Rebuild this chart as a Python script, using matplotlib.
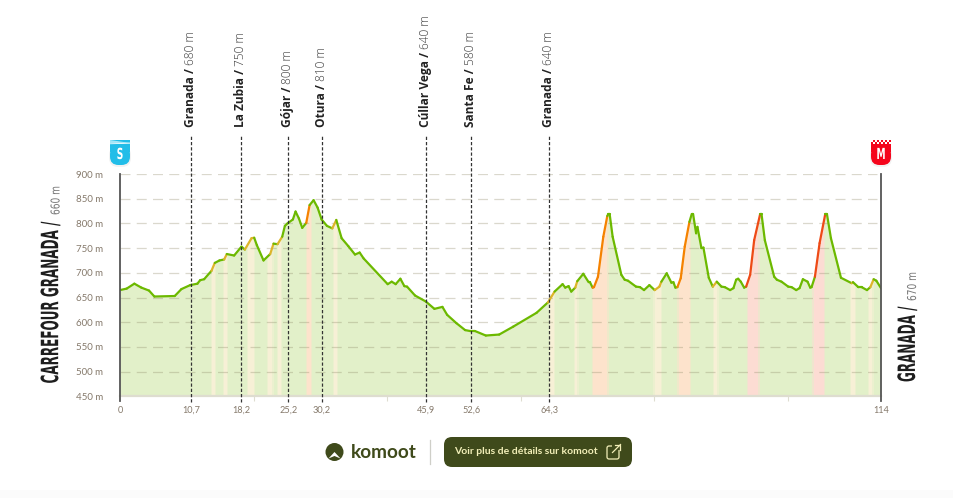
import matplotlib
matplotlib.use('Agg')
import matplotlib.pyplot as plt
import matplotlib.patheffects as pe
from matplotlib.collections import LineCollection
from matplotlib.patches import FancyBboxPatch, Rectangle, Circle, Polygon
from matplotlib.transforms import Affine2D
import numpy as np

# elevation profile
km = [0, 1, 2.15, 3.2, 4.35, 5.15, 8.2, 9.2, 10.5, 11.6, 12, 12.6, 13.7, 14.2, 14.9, 15.6, 16, 17.1, 18.2, 18.7,
      19.7, 20.1, 20.5, 21.5, 22.5, 23, 23.6, 24.3, 24.7, 25.1, 25.9, 26.3, 26.8, 27.3, 27.9, 28.4, 29, 29.6, 30.2,
      31, 31.8, 32.4, 33.2, 34.2, 35.2, 35.9, 36.5, 40.1, 40.7, 41.3, 42, 42.6, 43, 44.2, 45.8, 47.1, 48.3, 49,
      50.4, 51.7, 52.5, 53.2, 54.8, 56.8, 58.9, 62.4, 64.1, 65.1, 66.3, 66.7, 67.2, 67.6, 68.2, 68.5, 69.4, 70.2,
      70.4, 70.8, 71, 71.6, 72.4, 73, 73.15, 73.35, 73.8, 75.1, 75.6, 76.1, 77.3, 77.9, 78.5, 79.3, 80.1, 80.8, 81.1,
      81.9, 82.6, 82.9, 83.2, 83.5, 84, 84.6, 85.3, 85.65, 85.85, 86.3, 86.5, 87.1, 87.4, 88.2, 88.8, 89.4, 90.1,
      90.6, 91.4, 91.9, 92.3, 92.6, 93, 93.5, 93.8, 94.4, 95, 95.9, 96.1, 96.6, 98, 98.4, 99.1, 100.1, 100.6, 101.3,
      101.8, 102.3, 103, 103.4, 103.6, 104.1, 104.8, 105.65, 105.9, 106.5, 108, 109.6, 109.8, 110.6, 111.1, 111.9,
      112.4, 112.9, 113.3, 114]
elev = [665, 668, 678, 670, 664, 652, 653, 667, 675, 678, 685, 687, 704, 720, 725, 727, 738, 735, 753, 747,
        770, 771, 756, 725, 738, 759, 758, 773, 795, 800, 808, 824, 810, 791, 801, 837, 847, 832, 808,
        795, 790, 807, 770, 754, 737, 741, 729, 677, 682, 677, 688, 673, 672, 654, 642, 627, 631, 615,
        598, 584, 582, 582, 573, 575, 591, 619, 640, 662, 677, 670, 673, 662, 670, 683, 698, 681,
        681, 670, 671, 692, 773, 815, 819, 819, 773, 696, 686, 684, 672, 671, 665, 675, 665, 672, 682,
        699, 680, 681, 670, 671, 689, 753, 803, 819, 819, 780, 793, 750, 751, 690, 672, 682, 672,
        671, 665, 669, 686, 688, 682, 670, 672, 696, 766, 819, 819, 766, 692, 686, 682, 672, 671, 665,
        669, 687, 682, 670, 671, 692, 760, 819, 819, 770, 690, 679, 681, 671, 671, 665,
        671, 687, 684, 669]

# steep stretches
band_start = [13.8, 15.6, 19.2, 22.2, 23.7, 28.0, 32.1, 64.4, 68.2, 70.9, 80.1, 83.7, 89.0, 94.1, 103.9, 109.5, 112.2]
band_end = [14.2, 16.0, 20.0, 22.8, 24.1, 28.6, 32.5, 65.0, 68.5, 73.0, 81.0, 85.4, 89.5, 95.6, 105.4, 110.1, 112.7]
band_kind = ['y', 'y', 'y', 'y', 'y', 'o', 'y', 'y', 'y', 'o', 'y', 'o', 'y', 'r', 'r', 'y', 'y']
band_fill = {'y': '#F7F0D6', 'o': '#FDE3CC', 'r': '#FCDCD3'}
band_line = {'y': '#DDB52A', 'o': '#F58200', 'r': '#EE4A16'}

# named stops
stop_km = [10.7, 18.2, 25.2, 30.2, 45.9, 52.6, 64.3]
stop_names = ['Granada', 'La Zubia', 'Gójar', 'Otura', 'Cúllar Vega', 'Santa Fe', 'Granada']
stop_elev = [680, 750, 800, 810, 640, 580, 640]
stop_ticklabels = ['10,7', '18,2', '25,2', '30,2', '45,9', '52,6', '64,3']

y_ticks = [450, 500, 550, 600, 650, 700, 750, 800, 850, 900]
minor_km = [20, 40, 60, 80, 100]

W, H = 954, 498
FONT = 'Lato'
TEXTC = '#85796B'
DARK = '#3F4A1B'


class Squeeze(pe.AbstractPathEffect):
    # narrows text about a pivot in display pixels, no condensed caps font is installed
    def __init__(self, px=0, py=0, sx=1, sy=1):
        super().__init__()
        self.px, self.py, self.sx, self.sy = px, py, sx, sy

    def draw_path(self, renderer, gc, tpath, affine, rgbFace=None):
        t = Affine2D().translate(-self.px, -self.py).scale(self.sx, self.sy).translate(self.px, self.py)
        renderer.draw_path(gc, tpath, affine + t, rgbFace)


fig = plt.figure(figsize=(W / 100, H / 100), dpi=100, facecolor='white')
ax = fig.add_axes([120 / W, 1 - 396.3 / H, 761 / W, 222.3 / H])
ax.set_xlim(0, 114)
ax.set_ylim(450, 900)
ax.patch.set_alpha(0)

# area under the profile and the coloured stretches clipped to it
area = ax.fill_between(km, elev, 450, color='#E2F0C9', lw=0, zorder=1)
clip = area.get_paths()[0]
for s, e, k in zip(band_start, band_end, band_kind):
    for pad, a in [(0.2, 0.5), (0, 1)]:
        span = ax.axvspan(s - pad, e + pad, color=band_fill[k], alpha=a, lw=0, zorder=1.5)
        span.set_clip_path(clip, transform=ax.transData)

# grid
for v in y_ticks[1:]:
    ax.plot([0, 113.4], [v, v], color='#8F8B6A', alpha=0.33, lw=0.9, dashes=(8, 5), zorder=2)

# profile line, coloured per segment
pts = np.column_stack([km, elev])
segs = np.stack([pts[:-1], pts[1:]], axis=1)
cols = []
for i in range(len(km) - 1):
    mid = (km[i] + km[i + 1]) / 2
    c = '#6CB900'
    for s, e, k in zip(band_start, band_end, band_kind):
        if s <= mid <= e:
            c = band_line[k]
    cols.append(c)
ax.add_collection(LineCollection(segs, colors=cols, linewidths=1.6, capstyle='round', joinstyle='round', zorder=4))

# stops
for x in stop_km:
    ax.axvline(x, ymin=-0.024, ymax=1.175, color='#333333', lw=0.9, dashes=(2.6, 1.6), clip_on=False, zorder=5)
ax.axvline(0, ymin=-0.02, ymax=1, color='#555555', lw=1.3, clip_on=False, zorder=5)
ax.axvline(114, ymin=-0.02, ymax=1, color='#555555', lw=1.3, clip_on=False, zorder=5)

# axes
for name in ['top', 'left', 'right']:
    ax.spines[name].set_visible(False)
ax.spines['bottom'].set_color('#DEDDD0')
ax.spines['bottom'].set_linewidth(1.6)
ax.set_xticks([0] + stop_km + [114])
ax.set_xticklabels(['0'] + stop_ticklabels + ['114'], fontsize=6.6, color=TEXTC, family=FONT)
ax.set_xticks(minor_km, minor=True)
ax.tick_params(axis='x', which='major', length=0, pad=7)
ax.tick_params(axis='x', which='minor', length=3.5, width=0.8, color='#DEDDD0')
ax.set_yticks(y_ticks)
ax.set_yticklabels([str(v) + ' m' for v in y_ticks], fontsize=7, color=TEXTC, family=FONT)
ax.tick_params(axis='y', length=0, pad=31.5)
for l in ax.get_yticklabels():
    l.set_ha('left')

# overlay in pixels for the furniture around the chart
ov = fig.add_axes([0, 0, 1, 1])
ov.set_xlim(0, W)
ov.set_ylim(H, 0)
ov.axis('off')
ov.patch.set_alpha(0)
ov.set_zorder(-1)
ax.set_zorder(1)
top = fig.add_axes([0, 0, 1, 1])
top.set_xlim(0, W)
top.set_ylim(H, 0)
top.axis('off')
top.patch.set_alpha(0)
top.set_zorder(2)

ov.add_patch(Rectangle((0, 490), W, 8, color='#FBFBFB', lw=0))

# stop labels, bold name then light elevation
fig.canvas.draw()
rend = fig.canvas.get_renderer()
for x, n, h in zip(stop_km, stop_names, stop_elev):
    px = 120 + x * 761 / 114
    t = top.text(px - 0.5, 126.5, n + ' /', rotation=90, ha='center', va='bottom', fontsize=8.6, fontweight='bold',
                 family='Open Sans', color='#222222')
    bb = t.get_window_extent(rend)
    top_px = H - bb.y1
    top.text(px - 0.5, top_px - 2.5, str(h) + ' m', rotation=90, ha='center', va='bottom', fontsize=8.6,
             fontweight='light', family='Open Sans', color='#3A3A3A')


def shield(cx, color, letter):
    top.add_patch(FancyBboxPatch((cx - 11, 146), 22, 21, boxstyle='round,pad=0,rounding_size=9', fc='#000000',
                                 ec='none', alpha=0.05, zorder=1))
    top.add_patch(Rectangle((cx - 10, 140), 20, 12, fc=color, ec='none', zorder=2))
    top.add_patch(FancyBboxPatch((cx - 10, 146), 20, 19, boxstyle='round,pad=0,rounding_size=8.5', fc=color,
                                 ec='none', zorder=2))
    t = top.text(cx, 154.5, letter, color='white', fontsize=11, fontweight='bold', ha='center', va='center', zorder=4,
                 family='Liberation Sans Narrow')
    t.set_path_effects([Squeeze(px=cx, sx=0.6)])


shield(120, '#22BDE8', 'S')
top.add_patch(Polygon([(110, 140), (130.5, 143), (110, 143.5)], fc='#A5E6F7', ec='none', zorder=3))
top.add_patch(Polygon([(110, 143.5), (131, 142.6), (131, 143.6), (110, 144.2)], fc='white', ec='none', zorder=3))

shield(881, '#F5051C', 'M')
for i in range(10):
    for j in range(2):
        if (i + j) % 2 == 0:
            top.add_patch(Rectangle((871 + i * 2, 140 + j * 2), 2, 2, fc='white', ec='none', zorder=3))

# side titles: set small, then stretched across and squeezed along, hanging from the top end
for x, y_top, txt in [(51, 222, 'CARREFOUR GRANADA /'), (907.8, 306.7, 'GRANADA /')]:
    t = top.text(x, y_top, txt, rotation=90, ha='center', va='top', fontsize=12, color='#1E1E1E', fontweight='bold',
                 family='Liberation Sans Narrow')
    t.set_path_effects([Squeeze(px=x, py=H - y_top, sx=1.43, sy=0.72)])
for x, y0, txt in [(56, 215, '660 m'), (912.5, 301, '670 m')]:
    t = top.text(x, y0, txt, rotation=90, ha='center', va='bottom', fontsize=8.8, color='#777777',
                 family='Liberation Sans Narrow')
    t.set_path_effects([Squeeze(py=H - y0, sy=0.74)])

# footer
top.add_patch(Circle((334.5, 452), 9, fc=DARK, ec='none'))
top.add_patch(Polygon([(328.5, 458.5), (334.5, 452), (340.5, 458.5), (334.5, 456)], fc='white', ec='none'))
top.text(351, 452, 'komoot', fontsize=13.7, fontweight='bold', family='Lato', color=DARK, va='center', ha='left')
top.plot([430, 430], [440, 464], color='#CFCFC8', lw=0.9)
top.add_patch(FancyBboxPatch((444, 437), 188, 30, boxstyle='round,pad=0,rounding_size=8', fc=DARK, ec='none'))
top.text(454, 451.5, 'Voir plus de détails sur komoot', fontsize=7.45, fontweight='bold', family='Lato',
         color='#F2EFB8', va='center', ha='left')
top.add_patch(FancyBboxPatch((607, 446), 12, 13, boxstyle='round,pad=0,rounding_size=2', fc='none', ec='#F2EFB8',
                             lw=0.9))
top.add_patch(Rectangle((612, 443), 10, 7, fc=DARK, ec='none'))
top.plot([612.5, 620.5], [452.5, 444.5], color='#F2EFB8', lw=0.9)
top.plot([615.5, 620.5, 620.5], [444.5, 444.5, 449.5], color='#F2EFB8', lw=0.9)

fig.savefig('out.png', dpi=100)
